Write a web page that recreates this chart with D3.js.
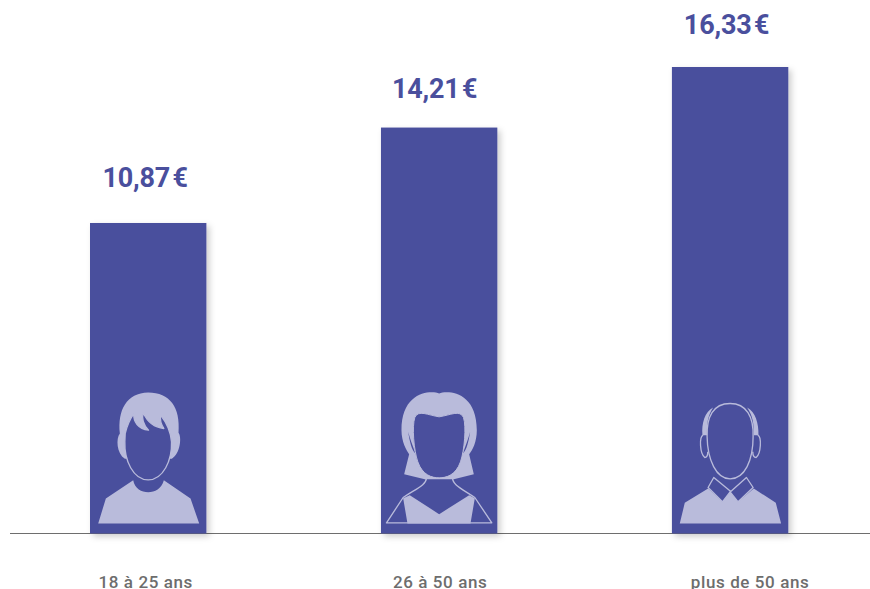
<!DOCTYPE html>
<html>
<head>
<meta charset="utf-8">
<script src="https://cdn.jsdelivr.net/npm/d3@7"></script>
<style>
  html, body { margin: 0; padding: 0; background: #fff; overflow: hidden; }
  svg { display: block; font-family: Roboto, sans-serif; }
</style>
</head>
<body>
<svg id="chart"></svg>
<script>
const categories = ['18 à 25 ans', '26 à 50 ans', 'plus de 50 ans'];
const prices = [10.87, 14.21, 16.33];

const BAR = '#4a4f9d';
const LIGHT = '#b9bbdb';
const width = 870;
const height = 589;
const baseY = 533.5;

const svg = d3.select('#chart').attr('width', width).attr('height', height);

const defs = svg.append('defs');
const shadow = defs.append('filter')
  .attr('id', 'shadow')
  .attr('x', '-10%').attr('y', '-10%')
  .attr('width', '130%').attr('height', '130%');
shadow.append('feDropShadow')
  .attr('dx', 3).attr('dy', 3)
  .attr('stdDeviation', 3)
  .attr('flood-color', '#000')
  .attr('flood-opacity', 0.2);

const xScale = d3.scaleBand().domain(categories).range([90, 788.3]).paddingInner(0.6);
const yScale = d3.scaleLinear().domain([0, 16.33]).range([baseY, 67]);

// baseline
svg.append('line')
  .attr('x1', 10).attr('x2', width)
  .attr('y1', baseY).attr('y2', baseY)
  .attr('stroke', '#6e6e6e').attr('stroke-width', 1.2);

// bars
svg.append('g')
  .selectAll('rect')
  .data(prices)
  .enter()
  .append('rect')
  .attr('x', (d, i) => xScale(categories[i]))
  .attr('y', d => yScale(d))
  .attr('width', xScale.bandwidth())
  .attr('height', d => baseY - yScale(d))
  .attr('fill', BAR)
  .attr('filter', 'url(#shadow)');

// value labels, the source nudges each one by hand
const valueDx = [-3, -4.5, -3.5];
const valueDy = [-35.5, -29.5, -33.5];
svg.append('g')
  .selectAll('text')
  .data(prices)
  .enter()
  .append('text')
  .attr('x', (d, i) => xScale(categories[i]) + xScale.bandwidth() / 2 + valueDx[i])
  .attr('y', (d, i) => yScale(d) + valueDy[i])
  .attr('text-anchor', 'middle')
  .attr('fill', BAR)
  .attr('font-size', 27)
  .attr('font-weight', 700)
  .attr('letter-spacing', -0.2)
  .text(d => d.toFixed(2).replace('.', ',') + '\u200a€');

// category labels through the axis
const labelDx = [-2.5, 1, 20];
const axis = svg.append('g')
  .attr('transform', `translate(0,${baseY})`)
  .call(d3.axisBottom(xScale).tickSize(0));
axis.select('.domain').remove();
axis.selectAll('text')
  .attr('dx', (d, i) => labelDx[i])
  .attr('y', 0).attr('dy', 0)
  .attr('transform', 'translate(0,54.2)')
  .attr('fill', '#6d6d6d')
  .attr('font-size', 17)
  .attr('font-weight', 500)
  .attr('font-family', 'Roboto, sans-serif')
  .attr('letter-spacing', 0.6);

// portraits, drawn on a 3x grid around the bar centre and the baseline
const icons = svg.append('g')
  .selectAll('g')
  .data(categories)
  .enter()
  .append('g')
  .attr('transform', d => `translate(${xScale(d) + xScale.bandwidth() / 2},${baseY}) scale(${1 / 3}) translate(-238,-490)`);

const part = (g, d, fill, stroke, sw) => g.append('path')
  .attr('d', d)
  .attr('fill', fill)
  .attr('stroke', stroke || 'none')
  .attr('stroke-width', sw || 0)
  .attr('stroke-linejoin', 'round');

// young person
const young = icons.filter((d, i) => i === 0).append('g').attr('transform', 'translate(3,0)');
part(young, 'M85,460 L108,385 L190,330 C195,355 215,366 235,366 C255,366 275,355 282,330 L362,385 L388,460 Z', LIGHT);
part(young, 'M150,190 C143,120 170,68 235,67 C300,68 332,110 326,188 C336,200 332,250 306,266 L165,266 C140,250 138,205 150,190 Z', LIGHT);
part(young, 'M166,190 C172,165 182,145 192,130 C190,155 205,176 236,180 C222,165 215,145 220,128 C230,150 250,172 282,175 C272,160 270,148 272,135 C288,155 302,180 305,215 C307,270 280,329 235,329 C190,329 163,270 165,215 Z', BAR, LIGHT, 4);

// middle aged woman
const woman = icons.filter((d, i) => i === 1).append('g');
part(woman, 'M200,322 C200,345 170,355 130,382 L80,458 H396 L345,382 C305,355 278,345 278,322', 'none', LIGHT, 4);
part(woman, 'M150,375 L238,432 L328,375 L345,384 L332,460 H143 L130,384 Z', LIGHT);
part(woman, 'M238,70 C215,60 125,62 125,180 C125,215 140,240 148,252 L133,312 L195,327 L282,327 L342,312 L328,252 C338,240 351,215 351,180 C351,62 262,60 238,70 Z', LIGHT);
part(woman, 'M145,185 C150,215 155,240 167,250 C158,225 150,205 145,185 Z', BAR);
part(woman, 'M331,185 C326,215 321,240 309,250 C318,225 326,205 331,185 Z', BAR);
part(woman, 'M165,142 C175,118 205,135 238,140 C271,135 301,118 311,142 C320,170 314,240 302,275 C288,315 260,323 238,323 C216,323 188,315 174,275 C162,240 156,170 165,142 Z', BAR, LIGHT, 3);

// older man
const man = icons.filter((d, i) => i === 2).append('g').attr('transform', 'translate(-3,0)');
part(man, 'M90,460 L105,398 L175,355 L218,395 L241,365 L265,395 L312,355 L378,398 L394,460 Z', LIGHT);
part(man, 'M192,322 L175,352 L218,395 L241,365 L265,395 L310,352 L290,322 L243,364 Z', BAR, LIGHT, 4);
part(man, 'M190,112 C165,125 155,160 158,195 L172,195 C170,160 175,135 190,112 Z', LIGHT);
part(man, 'M292,112 C317,125 327,160 326,195 L312,195 C313,160 308,135 292,112 Z', LIGHT);
part(man, 'M160,195 C148,200 150,250 165,262 C172,262 174,255 174,245', 'none', LIGHT, 4);
part(man, 'M324,195 C336,200 334,250 319,262 C312,262 309,255 309,245', 'none', LIGHT, 4);
part(man, 'M241,100 C190,100 170,140 172,200 C173,270 200,326 241,326 C285,326 310,270 310,200 C312,140 290,100 241,100 Z', BAR, LIGHT, 4);
</script>
</body>
</html>
